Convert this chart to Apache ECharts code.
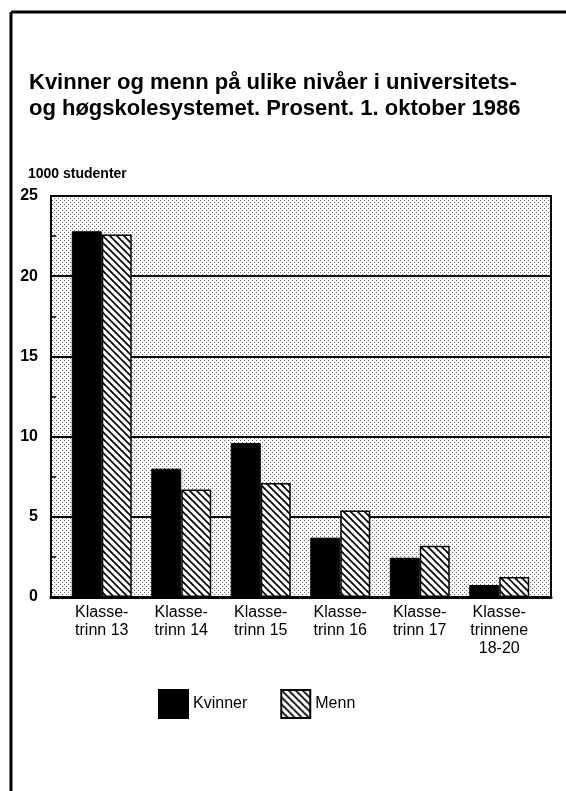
<!DOCTYPE html>
<html>
<head>
<meta charset="utf-8">
<script src="https://cdn.jsdelivr.net/npm/echarts@6/dist/echarts.min.js"></script>
<style>
  html, body { margin: 0; padding: 0; background: #fff; }
  #chart { width: 566px; height: 791px; }
</style>
</head>
<body>
<div id="chart"></div>
<script>
var categories = ['Klasse-\ntrinn 13', 'Klasse-\ntrinn 14', 'Klasse-\ntrinn 15',
  'Klasse-\ntrinn 16', 'Klasse-\ntrinn 17', 'Klasse-\ntrinnene\n18-20'];
var kvinner = [22.8, 8.0, 9.6, 3.7, 2.45, 0.75];
var menn = [22.6, 6.7, 7.1, 5.4, 3.2, 1.25];

var font = '"Liberation Sans", Arial, Helvetica, sans-serif';

// stipple background for the plot area
function dots() {
  var c = document.createElement('canvas');
  c.width = 4; c.height = 4;
  var ctx = c.getContext('2d');
  ctx.fillStyle = '#fff';
  ctx.fillRect(0, 0, 4, 4);
  ctx.fillStyle = '#666';
  ctx.fillRect(0, 0, 1, 1);
  ctx.fillRect(2, 2, 1, 1);
  return c;
}

// "\" hatching for Menn
function hatch() {
  var s = 7;
  var c = document.createElement('canvas');
  c.width = s; c.height = s;
  var ctx = c.getContext('2d');
  ctx.fillStyle = '#fff';
  ctx.fillRect(0, 0, s, s);
  ctx.strokeStyle = '#000';
  ctx.lineWidth = 1.7;
  for (var k = -1; k <= 1; k++) {
    ctx.beginPath();
    ctx.moveTo(k * s - 1, -1);
    ctx.lineTo(k * s + s + 1, s + 1);
    ctx.stroke();
  }
  return c;
}

var myChart = echarts.init(document.getElementById('chart'));
myChart.setOption({
  backgroundColor: '#fff',
  animation: false,
  title: {
    text: 'Kvinner og menn på ulike nivåer i universitets-\nog høgskolesystemet. Prosent. 1. oktober 1986',
    left: 24,
    top: 65,
    textStyle: {
      color: '#000',
      fontFamily: font,
      fontWeight: 'bold',
      fontSize: 22,
      lineHeight: 26
    }
  },
  graphic: [
    { type: 'line', shape: { x1: 11, y1: 12, x2: 11, y2: 791 }, style: { stroke: '#000', lineWidth: 3 } },
    { type: 'line', shape: { x1: 11, y1: 12, x2: 566, y2: 12 }, style: { stroke: '#000', lineWidth: 3 } },
    {
      type: 'text', left: 28, top: 167,
      style: { text: '1000 studenter', fill: '#000', font: 'bold 14px ' + font }
    }
  ],
  legend: {
    left: 153,
    top: 684,
    icon: 'rect',
    itemWidth: 29,
    itemHeight: 28,
    itemGap: 33,
    data: ['Kvinner', 'Menn'],
    textStyle: { color: '#000', fontFamily: font, fontSize: 16 }
  },
  grid: [
    {
      left: 51, right: 15, top: 196, bottom: 194,
      show: true,
      backgroundColor: { image: dots(), repeat: 'repeat' },
      borderColor: '#000',
      borderWidth: 2
    },
    { left: 62, right: 27, top: 196, bottom: 194 }
  ],
  xAxis: [
    {
      gridIndex: 0,
      type: 'category',
      data: categories,
      axisLabel: { show: false },
      axisTick: { show: false },
      axisLine: { lineStyle: { color: '#000', width: 3 } }
    },
    {
      gridIndex: 1,
      type: 'category',
      data: categories,
      axisLine: { show: false },
      axisTick: { show: false },
      axisLabel: {
        margin: 7,
        color: '#000',
        fontFamily: font,
        fontSize: 16,
        lineHeight: 18
      }
    }
  ],
  yAxis: [
    {
      gridIndex: 0,
      type: 'value',
      min: 0,
      max: 25,
      interval: 5,
      axisLine: { show: false },
      axisTick: { show: true, inside: true, length: 5, lineStyle: { color: '#000', width: 1.5 } },
      minorTick: { show: true, splitNumber: 2, length: 5, lineStyle: { color: '#000', width: 1.5 } },
      splitLine: { lineStyle: { color: '#000', width: 2 } },
      axisLabel: {
        margin: 13,
        color: '#000',
        fontFamily: font,
        fontWeight: 'bold',
        fontSize: 16
      }
    },
    {
      gridIndex: 1,
      type: 'value',
      min: 0,
      max: 25,
      show: false
    }
  ],
  series: [
    {
      name: 'Kvinner',
      type: 'bar',
      xAxisIndex: 1,
      yAxisIndex: 1,
      data: kvinner,
      barWidth: 30,
      barGap: '0%',
      itemStyle: { color: '#000', borderColor: '#000', borderWidth: 1 }
    },
    {
      name: 'Menn',
      type: 'bar',
      xAxisIndex: 1,
      yAxisIndex: 1,
      data: menn,
      barWidth: 30,
      barGap: '0%',
      itemStyle: {
        color: { image: hatch(), repeat: 'repeat' },
        borderColor: '#000',
        borderWidth: 1.5
      }
    }
  ]
});
</script>
</body>
</html>
